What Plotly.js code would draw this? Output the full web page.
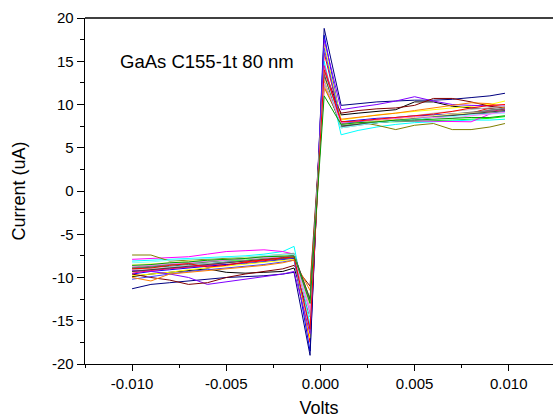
<!DOCTYPE html>
<html>
<head>
<meta charset="utf-8">
<script src="https://cdn.plot.ly/plotly-3.0.1.min.js"></script>
<style>html,body{margin:0;padding:0;background:#fff;}#chart{width:553px;height:419px;}</style>
</head>
<body>
<div id="chart"></div>
<script>
// Shared voltage sweep (V)
const volts = [-0.0100,-0.0090,-0.0080,-0.0070,-0.0060,-0.0050,-0.0040,-0.0030,-0.0020,-0.0014,-0.00055,0.0002,0.0011,0.0020,0.0030,0.0040,0.0050,0.0060,0.0070,0.0080,0.0090,0.0098];

// Current (uA) for each sweep
const c01 = [-9.9,-9.6,-9.4,-9.2,-9.0,-9.4,-9.5,-9.4,-9.3,-8.9,-14.5,14.0,8.8,9.0,9.2,9.4,10.3,10.3,9.8,9.6,9.5,9.4];
const c02 = [-9.3,-9.1,-8.9,-8.8,-8.6,-8.5,-8.3,-8.1,-7.9,-7.7,-17.5,16.0,7.8,8.0,8.2,8.4,8.6,8.7,8.9,9.0,9.6,9.8];
const c03 = [-8.9,-8.8,-8.5,-8.3,-8.2,-8.0,-8.0,-7.8,-7.7,-7.6,-13.0,12.5,7.6,7.8,8.0,8.0,8.05,8.1,8.2,8.3,8.4,8.6];
const c04 = [-9.6,-9.3,-9.1,-8.9,-8.7,-8.5,-8.4,-8.2,-8.0,-7.8,-18.5,18.0,8.0,8.2,8.4,8.5,8.7,8.8,8.9,9.0,9.1,9.3];
const c05 = [-8.1,-8.0,-7.9,-7.8,-7.7,-7.6,-7.5,-7.3,-7.0,-6.4,-15.5,15.0,6.5,7.0,7.4,7.7,7.9,8.0,8.1,8.2,8.2,8.3];
const c06 = [-7.9,-7.8,-7.7,-7.6,-7.3,-7.0,-6.9,-6.8,-7.0,-7.3,-14.0,13.5,7.7,7.9,8.0,8.1,8.1,8.05,8.05,8.0,8.9,9.4];
const c07 = [-9.8,-9.6,-9.4,-9.1,-8.9,-8.7,-8.5,-8.3,-8.1,-7.9,-17.0,17.0,8.2,8.5,8.8,9.0,9.2,9.4,9.6,9.8,10.0,10.4];
const c08 = [-7.4,-7.4,-8.1,-8.0,-7.9,-7.8,-7.7,-7.6,-7.5,-7.4,-12.5,12.0,7.9,8.0,7.6,7.1,7.6,7.8,7.1,7.1,7.4,7.8];
const c09 = [-11.3,-10.8,-10.6,-10.4,-10.2,-10.0,-9.9,-9.8,-9.6,-9.4,-19.0,18.8,9.9,10.1,10.3,10.4,10.5,10.5,10.6,10.8,11.0,11.3];
const c10 = [-9.2,-9.3,-9.6,-10.0,-10.8,-10.5,-10.2,-9.9,-9.6,-9.3,-16.5,17.5,9.4,9.7,10.0,10.4,10.9,10.4,10.0,9.9,9.8,9.8];
const c11 = [-9.6,-10.0,-10.3,-10.8,-10.6,-10.0,-9.6,-9.3,-9.0,-8.6,-11.0,13.0,9.0,9.3,9.5,9.6,9.9,10.7,10.7,10.3,9.8,9.6];
const c12 = [-9.0,-8.8,-8.7,-8.5,-8.4,-8.2,-8.1,-7.9,-7.8,-7.6,-13.5,13.0,7.5,7.7,7.9,8.1,8.3,8.5,8.7,8.9,9.0,9.2];
const c13 = [-10.2,-9.9,-9.6,-9.3,-9.1,-8.9,-8.7,-8.5,-8.2,-8.0,-16.0,16.5,7.8,8.0,8.2,8.4,8.6,8.7,8.8,9.0,9.1,9.2];
const c14 = [-10.0,-10.4,-9.6,-9.4,-9.2,-9.0,-8.8,-8.6,-8.3,-8.0,-11.5,12.0,8.3,8.5,8.8,9.0,9.3,9.6,9.9,10.2,10.1,9.6];
const c15 = [-9.5,-9.2,-9.0,-8.8,-8.6,-8.3,-8.1,-7.9,-7.7,-7.5,-14.5,14.5,7.7,7.9,8.1,8.3,8.5,8.6,8.8,9.0,9.2,9.4];
const c16 = [-9.1,-9.0,-8.8,-8.6,-8.4,-8.3,-8.1,-7.9,-7.7,-7.5,-13.5,13.5,7.6,7.9,8.2,8.5,8.7,9.0,9.2,9.4,9.6,9.8];
const c17 = [-8.8,-8.6,-8.5,-8.3,-8.1,-7.9,-7.7,-7.5,-7.3,-7.2,-13.0,13.2,7.3,7.6,7.9,8.1,8.4,8.6,8.8,9.0,9.3,9.6];
const c18 = [-8.9,-8.7,-8.5,-8.4,-8.2,-8.0,-7.8,-7.6,-7.4,-7.3,-12.8,13.0,7.4,7.7,7.9,8.2,8.4,8.6,8.9,9.1,9.3,9.5];
const c19 = [-8.5,-8.4,-8.3,-8.1,-8.0,-7.9,-7.7,-7.6,-7.5,-7.4,-13.2,13.0,7.7,7.9,8.1,8.3,8.5,8.7,8.9,9.0,9.1,9.3];
const c20 = [-9.3,-9.1,-8.9,-8.7,-8.5,-8.3,-8.1,-7.9,-7.7,-7.4,-12.5,13.5,7.5,7.7,7.9,8.1,8.3,8.5,8.7,8.9,9.1,9.3];
const c21 = [-8.3,-8.2,-8.0,-7.9,-7.8,-7.7,-7.6,-7.5,-7.4,-7.3,-14.5,14.0,7.3,7.6,7.9,8.1,8.3,8.5,8.6,8.8,8.9,9.0];
const c22 = [-8.7,-8.6,-8.4,-8.3,-8.1,-8.0,-7.8,-7.7,-7.6,-7.5,-13.8,12.5,7.9,8.1,8.3,8.4,8.6,8.5,8.4,8.7,8.9,9.1];
const c23 = [-9.0,-8.9,-8.6,-8.4,-8.8,-8.6,-8.2,-8.0,-7.8,-7.6,-16.0,14.0,8.0,8.1,8.3,8.5,8.7,8.9,9.2,9.6,9.9,10.0];
const c24 = [-8.6,-8.5,-8.3,-8.2,-8.0,-7.9,-7.8,-7.6,-7.5,-7.5,-13.0,11.0,7.7,7.9,8.0,8.2,8.2,8.3,8.4,8.5,8.5,8.7];

const series = [c01,c02,c03,c04,c05,c06,c07,c08,c09,c10,c11,c12,c13,c14,c15,c16,c17,c18,c19,c20,c21,c22,c23,c24];
const colors = ['#000000','#FF0000','#00FF00','#0000FF','#00FFFF','#FF00FF','#FFFF00','#808000',
                '#000080','#8000FF','#800000','#008080','#4040FF','#FF8000','#FF0080','#C0C0C0',
                '#808080','#707070','#FFFF80','#404040','#80FFFF','#FF80FF','#FF0000','#00A000'];

const xTickVals = [-0.010,-0.005,0.000,0.005,0.010];
const xTickText = ['-0.010','-0.005','0.000','0.005','0.010'];
const yTickVals = [-20,-15,-10,-5,0,5,10,15,20];
const yTickText = ['-20','-15','-10','-5','0','5','10','15','20'];

const traces = series.map((ys,i)=>({
  x: volts, y: ys, type:'scatter', mode:'lines',
  line:{color:colors[i], width:1}, hoverinfo:'skip', showlegend:false
}));

const font = {family:'Arial, "Liberation Sans", sans-serif', color:'#000'};

const layout = {
  width:553, height:419,
  margin:{l:85, r:0, t:18, b:55, pad:0},
  paper_bgcolor:'#fff', plot_bgcolor:'#fff',
  showlegend:false,
  font:Object.assign({size:15}, font),
  xaxis:{
    range:[-0.0125,0.01235],
    tickmode:'array', tickvals:xTickVals, ticktext:xTickText,
    ticks:'outside', ticklen:6, tickwidth:1, tickcolor:'#000',
    minor:{tickmode:'linear', tick0:0, dtick:0.0025, ticks:'outside', ticklen:3, tickcolor:'#000', showgrid:false},
    showline:true, linecolor:'#000', linewidth:1.3,
    showgrid:false, zeroline:false,
    tickfont:Object.assign({size:15}, font),
    title:{text:'Volts', font:Object.assign({size:18}, font), standoff:10}
  },
  yaxis:{
    range:[-20,20],
    tickmode:'array', tickvals:yTickVals, ticktext:yTickText,
    ticks:'outside', ticklen:7, tickwidth:1, tickcolor:'#000',
    minor:{tickmode:'linear', tick0:0, dtick:2.5, ticks:'outside', ticklen:4, tickcolor:'#000', showgrid:false},
    showline:true, linecolor:'#000', linewidth:1.3,
    showgrid:false, zeroline:false,
    tickfont:Object.assign({size:15}, font),
    title:{text:'Current (uA)', font:Object.assign({size:18}, font), standoff:21}
  },
  shapes:[{type:'line', xref:'paper', yref:'paper', x0:0, x1:1, y0:1, y1:1, line:{color:'#000', width:1.3}}],
  annotations:[{
    text:'GaAs C155-1t 80 nm', x:-0.01077, y:15.0, xref:'x', yref:'y',
    xanchor:'left', yanchor:'middle', showarrow:false,
    font:Object.assign({size:18.5}, font)
  }]
};

Plotly.newPlot('chart', traces, layout, {staticPlot:true, displayModeBar:false});
</script>
</body>
</html>
